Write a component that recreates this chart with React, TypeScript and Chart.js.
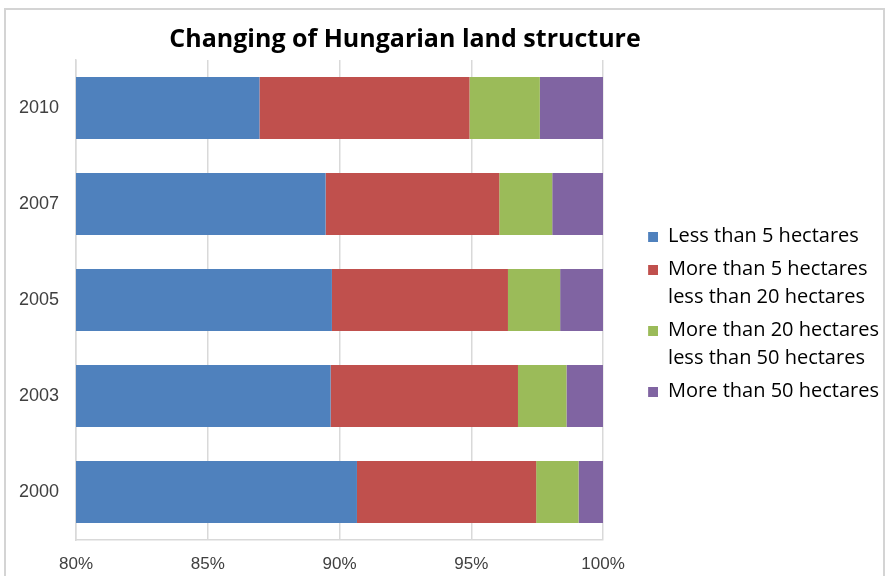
import React, { useEffect, useRef } from "react";
import { Chart, registerables } from "chart.js";

Chart.register(...registerables);

const chartTitle = "Changing of Hungarian land structure";
const years = ["2010", "2007", "2005", "2003", "2000"];
const seriesNames = [
  ["Less than 5 hectares"],
  ["More than 5 hectares", "less than 20 hectares"],
  ["More than 20 hectares", "less than 50 hectares"],
  ["More than 50 hectares"],
];
const lessThan5 = [86.96, 89.47, 89.71, 89.66, 90.66];
const from5to20 = [7.97, 6.59, 6.68, 7.11, 6.8];
const from20to50 = [2.67, 2.01, 1.98, 1.84, 1.61];
const moreThan50 = [2.4, 1.93, 1.63, 1.39, 0.93];
const xTicks = [80, 85, 90, 95, 100];
const colors = ["#4F81BD", "#C0504D", "#9BBB59", "#8064A2"];

// legend marker: a square placed at the right end of a wider slot
function makeMarker(color: string) {
  const c = document.createElement("canvas");
  c.width = 50;
  c.height = 10;
  const g = c.getContext("2d");
  if (g) {
    g.fillStyle = color;
    g.fillRect(40, 0, 10, 10);
  }
  return c;
}

export default function App() {
  const ref = useRef<HTMLCanvasElement | null>(null);

  useEffect(() => {
    if (!ref.current) return;
    const values = [lessThan5, from5to20, from20to50, moreThan50];
    const markers = colors.map(makeMarker);
    const titlePlugin = {
      id: "offsetTitle",
      afterDraw(chart: any) {
        const ctx = chart.ctx;
        ctx.save();
        ctx.font = "bold 25px 'Open Sans'";
        ctx.fillStyle = "#000";
        ctx.textAlign = "center";
        ctx.textBaseline = "middle";
        ctx.fillText(chartTitle, 405, 40);
        ctx.restore();
      },
    };
    const chart = new Chart(ref.current, {
      type: "bar",
      data: {
        labels: years,
        datasets: values.map((v, i) => ({
          label: seriesNames[i].join(" "),
          data: v,
          backgroundColor: colors[i],
          borderWidth: 0,
          barPercentage: 0.646,
          categoryPercentage: 1,
        })),
      },
      options: {
        indexAxis: "y",
        responsive: false,
        animation: false,
        devicePixelRatio: 1,
        layout: { padding: { top: 60, left: 2, bottom: 0, right: -4 } },
        scales: {
          x: {
            stacked: true,
            min: 80,
            max: 100,
            afterBuildTicks: (scale: any) => {
              scale.ticks = xTicks.map((v) => ({ value: v }));
            },
            afterFit: (scale: any) => {
              scale.height = 36;
            },
            ticks: {
              callback: (v: any) => v + "%",
              color: "#404040",
              font: { family: "'Liberation Sans'", size: 17 },
              padding: 14,
              maxRotation: 0,
            },
            grid: { color: "#d9d9d9", lineWidth: 1.5, drawTicks: false },
            border: { display: true, color: "#d9d9d9", width: 1.5 },
          },
          y: {
            stacked: true,
            ticks: {
              color: "#404040",
              font: { family: "'Liberation Sans'", size: 18 },
              padding: 17,
            },
            grid: { display: false, drawTicks: false },
            border: { display: true, color: "#d9d9d9", width: 1.5 },
          },
        },
        plugins: {
          title: { display: false },
          tooltip: { enabled: false },
          legend: {
            position: "right",
            maxWidth: 400,
            labels: {
              usePointStyle: true,
              pointStyleWidth: 50,
              boxWidth: 50,
              boxHeight: 10,
              padding: 5,
              color: "#000",
              font: { family: "'Open Sans'", size: 20, lineHeight: 1.4 },
              generateLabels: (c: any) => {
                const base = Chart.defaults.plugins.legend.labels.generateLabels(c);
                return base.map((item: any, i: number) => ({
                  ...item,
                  text: seriesNames[i],
                  lineWidth: 0,
                  pointStyle: markers[i],
                }));
              },
            },
          },
        },
      },
      plugins: [titlePlugin],
    });
    return () => chart.destroy();
  }, []);

  return (
    <div
      style={{
        position: "fixed",
        left: 0,
        top: 0,
        width: 885,
        height: 576,
        overflow: "hidden",
        background: "#fff",
      }}
    >
      <div
        style={{
          position: "absolute",
          left: 4,
          top: 8,
          width: 877,
          height: 600,
          border: "2px solid #d4d4d4",
        }}
      />
      <canvas
        ref={ref}
        width={885}
        height={576}
        style={{ position: "absolute", left: 0, top: 0, display: "block" }}
      />
    </div>
  );
}
